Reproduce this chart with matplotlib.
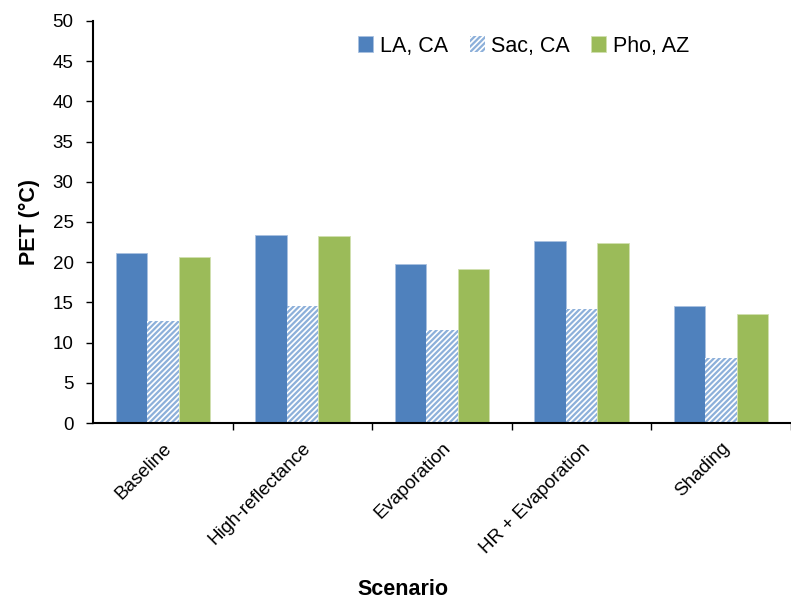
import matplotlib
matplotlib.use("Agg")
import matplotlib.pyplot as plt
import numpy as np

plt.rcParams['font.family'] = ['Liberation Sans', 'DejaVu Sans']
plt.rcParams['hatch.linewidth'] = 1.6

categories = ["Baseline", "High-reflectance", "Evaporation", "HR + Evaporation", "Shading"]
la_ca = [21.1, 23.4, 19.8, 22.6, 14.6]
sac_ca = [12.7, 14.6, 11.6, 14.2, 8.1]
pho_az = [20.6, 23.2, 19.2, 22.4, 13.6]
yticks = list(range(0, 51, 5))

fig = plt.figure(figsize=(7.91, 6.0), dpi=100)
ax = fig.add_axes([93/791, 1-423/600, (791-93)/791, (423-21)/600])

x = np.arange(len(categories))
w = 0.225
ax.bar(x - w, la_ca, w, color='#4F81BD', edgecolor='#A9C1E0', linewidth=0.6, label='LA, CA')
ax.bar(x, sac_ca, w, color='white', edgecolor='#8DB0DA', linewidth=0, hatch='//////', label='Sac, CA')
ax.bar(x + w, pho_az, w, color='#9BBB59', edgecolor='#D1E0B0', linewidth=0.6, label='Pho, AZ')

ax.set_xlim(-0.5, 4.41)
ax.set_ylim(0, 50)
ax.set_yticks(yticks)
ax.set_xticks(np.arange(len(categories)) + 0.5, minor=False)
ax.set_xticklabels([])
ax.set_xticks(x, minor=True)
ax.set_xticklabels(categories, minor=True, rotation=45, ha='right', rotation_mode='anchor', fontsize=13.5)
ax.tick_params(axis='x', which='minor', length=0, pad=12)
ax.tick_params(axis='x', which='major', length=5, width=1, direction='out')
ax.tick_params(axis='y', labelsize=13.5, length=5, width=1, direction='out', pad=9)

ax.spines['top'].set_visible(False)
ax.spines['right'].set_visible(False)
ax.spines['left'].set_linewidth(1.5)
ax.spines['bottom'].set_linewidth(1.5)

ax.set_ylabel('PET (°C)', fontsize=15.5, fontweight='bold', labelpad=9)
fig.text(0.51, 0.0, 'Scenario', ha='center', va='bottom', fontsize=15.5, fontweight='bold')

leg = ax.legend(loc='upper center', bbox_to_anchor=(0.617, 1.012), ncol=3, frameon=False,
                fontsize=15.5, handlelength=0.7, handleheight=0.7, handletextpad=0.3,
                columnspacing=1.0)

fig.savefig('out.png', dpi=100)
